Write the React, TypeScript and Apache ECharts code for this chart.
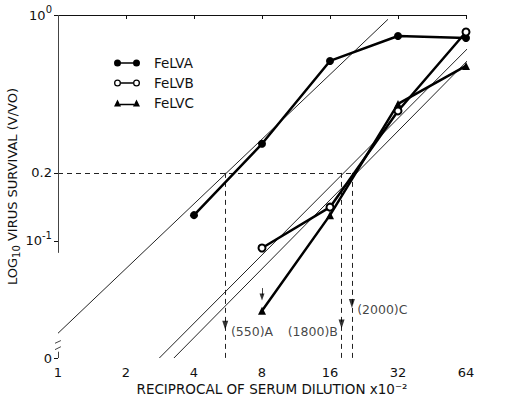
import React, { useEffect, useRef } from "react";
import * as echarts from "echarts";

// ---- data (dilution values are reciprocal serum dilution x10^2) ----
const dilutionsA = [4, 8, 16, 32, 64];
const survivalA = [0.13, 0.269, 0.626, 0.807, 0.791];
const dilutionsBC = [8, 16, 32, 64];
const survivalB = [0.093, 0.141, 0.376, 0.841];
const survivalC = [0.049, 0.13, 0.404, 0.595];

// fitted (thin) regression lines, end points
const fitDilutionsA = [1, 28.9];
const fitSurvivalA = [0.039, 0.957];
const fitDilutionsB = [2.81, 87.5];
const fitSurvivalB = [0.0303, 0.957];
const fitDilutionsC = [3.26, 95.3];
const fitSurvivalC = [0.0303, 0.925];

// axes
const xTickValues = [1, 2, 4, 8, 16, 32, 64];
const yZero = 0.0303; // bottom of the broken axis, labelled "0"
const yTickValues = [yZero, 0.1, 0.2, 1];
const yTickLabels = ["{n|0}", "{n|10}{sup|-1}", "{n|0.2}", "{n|10}{sup|0}"];

// 50% neutralisation end points
const halfSurvival = 0.2;
const endpointDilutions = [5.5, 18, 20];
const endpointLabels = ["(550)A", "(1800)B", "(2000)C"];
const arrowLevels = [0.0423, 0.0428, 0.0528];
const labelDilutions = [5.83, 10.4, 21.1];
const labelLevels = [0.0396, 0.0396, 0.0495];
const limitDilution = 8;
const limitStem = [0.0618, 0.0575];
const limitArrowLevel = 0.0565;

// axis decoration (broken y axis)
const yAxisVisibleLow = 0.0885;
const zeroStubTop = 0.0323;
const breakMarksLow = [0.0352, 0.033];
const breakMarksHigh = [0.0362, 0.034];

const FONT = "DejaVu Sans";

export default function App() {
  const ref = useRef<HTMLDivElement>(null);
  useEffect(() => {
    document.body.style.margin = "0";
    const chart = echarts.init(ref.current!, null, { renderer: "svg" });
    const L2 = Math.log2;
    const L10 = Math.log10;
    const P = (x: number, y: number) => [L2(x), L10(y)];
    const yMin = L10(yZero);
    const yCustom = yTickValues.map(L10);
    const labelFor = (v: number) => {
      const i = yCustom.findIndex((c) => Math.abs(c - v) < 1e-9);
      return i >= 0 ? yTickLabels[i] : "";
    };
    const seg = (x1: number, y1: number, x2: number, y2: number) => ({
      coords: [P(x1, y1), P(x2, y2)],
    });

    const iconA =
      "path://M0,3.5 A3.5,3.5 0 1,1 7,3.5 A3.5,3.5 0 1,1 0,3.5 Z M6,2.7 L20,2.7 L20,4.3 L6,4.3 Z M19,3.5 A3.5,3.5 0 1,1 26,3.5 A3.5,3.5 0 1,1 19,3.5 Z";
    const iconB =
      "path://M0,3.5 A3.5,3.5 0 1,1 7,3.5 A3.5,3.5 0 1,1 0,3.5 Z M1.3,3.5 A2.2,2.2 0 1,0 5.7,3.5 A2.2,2.2 0 1,0 1.3,3.5 Z M7,2.8 L19,2.8 L19,4.2 L7,4.2 Z M19,3.5 A3.5,3.5 0 1,1 26,3.5 A3.5,3.5 0 1,1 19,3.5 Z M20.3,3.5 A2.2,2.2 0 1,0 24.7,3.5 A2.2,2.2 0 1,0 20.3,3.5 Z";
    const iconC =
      "path://M0,7 L3.5,0 L7,7 Z M6,4.2 L20,4.2 L20,5.8 L6,5.8 Z M19,7 L22.5,0 L26,7 Z";

    const fitLine = (xs: number[], ys: number[]) => ({
      type: "line",
      data: xs.map((x, i) => P(x, ys[i])),
      symbol: "none",
      clip: false,
      silent: true,
      z: 1,
      lineStyle: { width: 1, color: "#222" },
    });

    const option: any = {
      animation: false,
      backgroundColor: "#fff",
      textStyle: { fontFamily: FONT },
      grid: {
        left: 58,
        right: 39,
        top: 15,
        bottom: 40,
        containLabel: false,
        outerBoundsMode: "none",
      },
      legend: {
        orient: "vertical",
        left: 109,
        top: 51,
        itemWidth: 26,
        itemHeight: 7,
        itemGap: 6,
        selectedMode: false,
        itemStyle: { color: "#000", borderWidth: 0 },
        data: [
          { name: "FeLVA", icon: iconA },
          { name: "FeLVB", icon: iconB },
          { name: "FeLVC", icon: iconC },
        ],
        formatter: (name: string) => `{t|${name}}`,
        textStyle: {
          fontFamily: FONT,
          color: "#111",
          fontSize: 13.5,
          rich: { t: { fontFamily: FONT, fontSize: 13.5, color: "#111", padding: [0, 0, 0, 9] } },
        },
      },
      xAxis: {
        type: "value",
        min: L2(xTickValues[0]),
        max: L2(xTickValues[xTickValues.length - 1]),
        interval: 1,
        axisLine: { lineStyle: { color: "#111", width: 1 } },
        axisTick: { length: 4, lineStyle: { color: "#111" } },
        axisLabel: {
          formatter: (v: number) => String(Math.round(Math.pow(2, v))),
          fontSize: 13,
          color: "#111",
          margin: 8,
          fontFamily: FONT,
        },
        splitLine: { show: false },
        name: "RECIPROCAL OF SERUM DILUTION x10⁻²",
        nameLocation: "middle",
        nameGap: 24,
        nameMoveOverlap: false,
        nameTextStyle: {
          fontFamily: FONT,
          fontSize: 13.5,
          color: "#111",
          padding: [0, 0, 0, 20],
        },
      },
      yAxis: {
        type: "value",
        min: yMin,
        max: 0,
        axisLine: { show: false },
        axisTick: {
          show: true,
          length: 4,
          customValues: yCustom,
          lineStyle: { color: "#111" },
        },
        axisLabel: {
          customValues: yCustom,
          formatter: labelFor,
          margin: 6,
          rich: {
            n: { fontFamily: FONT, fontSize: 13, color: "#111" },
            sup: { fontFamily: FONT, fontSize: 10, color: "#111", padding: [0, 0, 11, 0] },
          },
        },
        splitLine: { show: false },
        name: "{t|LOG}{sub|10}{t| VIRUS SURVIVAL (V/VO)}",
        nameLocation: "middle",
        nameGap: 37,
        nameRotate: 90,
        nameMoveOverlap: false,
        nameTextStyle: {
          rich: {
            t: { fontFamily: FONT, fontSize: 13, color: "#111" },
            sub: { fontFamily: FONT, fontSize: 10, color: "#111", padding: [7, 0, 0, 0] },
          },
        },
      },
      series: [
        fitLine(fitDilutionsA, fitSurvivalA),
        fitLine(fitDilutionsB, fitSurvivalB),
        fitLine(fitDilutionsC, fitSurvivalC),
        {
          name: "FeLVA",
          type: "line",
          data: dilutionsA.map((d, i) => P(d, survivalA[i])),
          symbol: "circle",
          symbolSize: 8,
          z: 5,
          itemStyle: { color: "#000" },
          lineStyle: { width: 2.5, color: "#000" },
        },
        {
          name: "FeLVB",
          type: "line",
          data: dilutionsBC.map((d, i) => P(d, survivalB[i])),
          symbol: "emptyCircle",
          symbolSize: 7,
          z: 5,
          itemStyle: { color: "#000", borderWidth: 1.5 },
          lineStyle: { width: 2.5, color: "#000" },
        },
        {
          name: "FeLVC",
          type: "line",
          data: dilutionsBC.map((d, i) => P(d, survivalC[i])),
          symbol: "triangle",
          symbolSize: 8,
          z: 5,
          itemStyle: { color: "#000" },
          lineStyle: { width: 2.5, color: "#000" },
        },
        {
          // dashed guide lines
          type: "lines",
          coordinateSystem: "cartesian2d",
          silent: true,
          z: 2,
          lineStyle: { type: [5, 4], width: 1, color: "#222", opacity: 1 },
          data: [
            seg(xTickValues[0], halfSurvival, endpointDilutions[2], halfSurvival),
            ...endpointDilutions.map((d) => seg(d, halfSurvival, d, yZero)),
          ],
        },
        {
          // broken y axis and small limit arrow stem
          type: "lines",
          coordinateSystem: "cartesian2d",
          silent: true,
          clip: false,
          z: 2,
          lineStyle: { width: 1, color: "#444", opacity: 1 },
          data: [
            seg(xTickValues[0], 1, xTickValues[0], yAxisVisibleLow),
            seg(xTickValues[0], yZero, xTickValues[0], zeroStubTop),
            seg(0.97, breakMarksLow[0], 1.03, breakMarksHigh[0]),
            seg(0.97, breakMarksLow[1], 1.03, breakMarksHigh[1]),
            seg(limitDilution, limitStem[0], limitDilution, limitStem[1]),
          ],
        },
        {
          // arrow heads
          type: "scatter",
          silent: true,
          symbol: "triangle",
          symbolRotate: 180,
          z: 6,
          itemStyle: { color: "#000" },
          data: [
            ...endpointDilutions.map((d, i) => ({ value: P(d, arrowLevels[i]), symbolSize: [6, 9] })),
            { value: P(limitDilution, limitArrowLevel), symbolSize: [5, 7] },
          ],
        },
        {
          // end point labels
          type: "scatter",
          silent: true,
          symbolSize: 0,
          z: 6,
          label: {
            show: true,
            position: "right",
            distance: 0,
            formatter: "{b}",
            fontFamily: FONT,
            fontSize: 12.5,
            color: "#111",
          },
          data: endpointLabels.map((t, i) => ({
            name: t,
            value: P(labelDilutions[i], labelLevels[i]),
          })),
        },
      ],
    };
    chart.setOption(option);
    return () => chart.dispose();
  }, []);
  return <div ref={ref} style={{ width: 505, height: 398 }} />;
}
